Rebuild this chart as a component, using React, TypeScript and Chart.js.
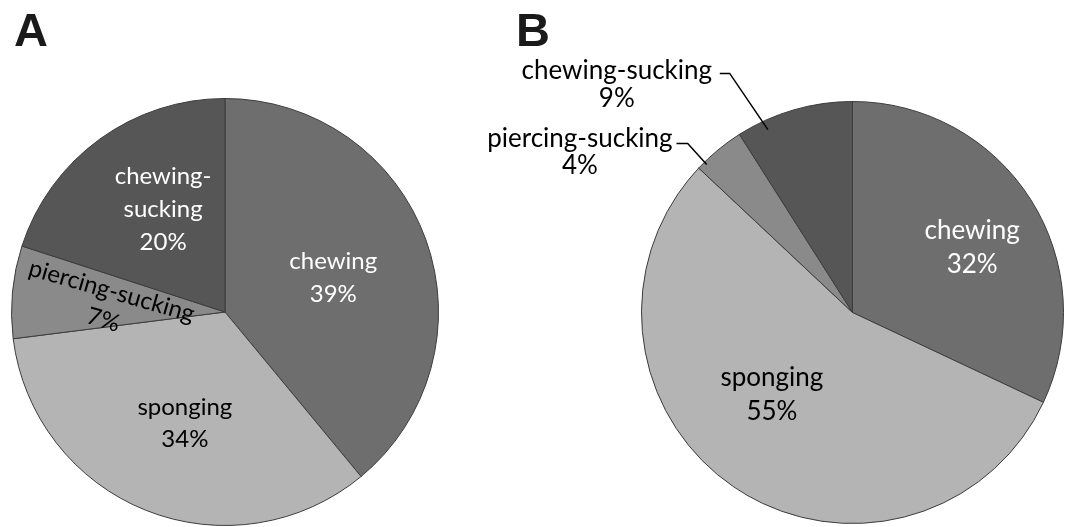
import React, { useEffect, useRef } from "react";
import { Chart, registerables } from "chart.js";

Chart.register(...registerables);

const categories = ["chewing", "sponging", "piercing-sucking", "chewing-sucking"];
const valuesA = [39, 34, 7, 20];
const valuesB = [32, 55, 4, 9];
const colors = ["#6e6e6e", "#b4b4b4", "#8a8a8a", "#565656"];

const FONT = "Lato, 'Open Sans', sans-serif";

type Lbl = { lines: string[]; dx: number; dy: number; color: string; rot?: number; size: number; lh: number };
type Leader = { pts: [number, number][] };

// label centres relative to pie centre, in units of radius
const labelsA: Lbl[] = [
  { lines: ["chewing", "39%"], dx: 0.507, dy: -0.16, color: "#ffffff", size: 24, lh: 33 },
  { lines: ["sponging", "34%"], dx: -0.188, dy: 0.52, color: "#000000", size: 24, lh: 32 },
  { lines: ["piercing-sucking", "7%"], dx: -0.55, dy: -0.03, color: "#000000", rot: 0.28, size: 24, lh: 30 },
  { lines: ["chewing-", "sucking", "20%"], dx: -0.29, dy: -0.48, color: "#ffffff", size: 24, lh: 33 },
];
const labelsB: Lbl[] = [
  { lines: ["chewing", "32%"], dx: 0.567, dy: -0.308, color: "#ffffff", size: 26, lh: 34 },
  { lines: ["sponging", "55%"], dx: -0.382, dy: 0.389, color: "#000000", size: 26, lh: 34 },
  { lines: ["piercing-sucking", "4%"], dx: -1.292, dy: -0.758, color: "#000000", size: 26, lh: 27 },
  { lines: ["chewing-sucking", "9%"], dx: -1.117, dy: -1.078, color: "#000000", size: 26, lh: 28 },
];
const leadersB: Leader[] = [
  { pts: [[-0.834, -0.801], [-0.781, -0.801], [-0.691, -0.701]] },
  { pts: [[-0.629, -1.133], [-0.582, -1.133], [-0.401, -0.867]] },
];

function makeLabelPlugin(labels: Lbl[], leaders: Leader[], letter: string, letterX: number) {
  return {
    id: "customLabels" + letter,
    afterDraw(chart: any) {
      const ctx = chart.ctx as CanvasRenderingContext2D;
      const arc = chart.getDatasetMeta(0).data[0] as any;
      if (!arc) return;
      const cx = arc.x;
      const cy = arc.y;
      const r = arc.outerRadius;
      ctx.save();
      // panel letter
      ctx.font = "bold 47px 'Liberation Sans', Arial, sans-serif";
      ctx.fillStyle = "#1a1a1a";
      ctx.textAlign = "left";
      ctx.textBaseline = "alphabetic";
      ctx.fillText(letter, letterX, 46);
      // leader lines
      ctx.strokeStyle = "#000000";
      ctx.lineWidth = 1.5;
      leaders.forEach((ld) => {
        ctx.beginPath();
        ld.pts.forEach(([px, py], i) => {
          const x = cx + px * r;
          const y = cy + py * r;
          if (i === 0) ctx.moveTo(x, y);
          else ctx.lineTo(x, y);
        });
        ctx.stroke();
      });
      // labels
      ctx.textAlign = "center";
      ctx.textBaseline = "middle";
      labels.forEach((l) => {
        ctx.save();
        ctx.font = `${l.size}px ${FONT}`;
        ctx.translate(cx + l.dx * r, cy + l.dy * r);
        if (l.rot) ctx.rotate(l.rot);
        ctx.fillStyle = l.color;
        const n = l.lines.length;
        l.lines.forEach((t, i) => {
          ctx.fillText(t, 0, (i - (n - 1) / 2) * l.lh);
        });
        ctx.restore();
      });
      ctx.restore();
    },
  };
}

function PieChart(props: {
  values: number[];
  labels: Lbl[];
  leaders: Leader[];
  letter: string;
  letterX: number;
  left: number;
  width: number;
  padding: { left: number; top: number; right: number; bottom: number };
}) {
  const ref = useRef<HTMLCanvasElement | null>(null);
  useEffect(() => {
    if (!ref.current) return;
    const chart = new Chart(ref.current, {
      type: "pie",
      data: {
        labels: categories,
        datasets: [
          {
            data: props.values,
            backgroundColor: colors,
            borderColor: "#3c3c3c",
            borderWidth: 1,
          },
        ],
      },
      options: {
        animation: false,
        responsive: false,
        maintainAspectRatio: false,
        layout: { padding: props.padding },
        plugins: { legend: { display: false }, tooltip: { enabled: false }, title: { display: false } },
      },
      plugins: [makeLabelPlugin(props.labels, props.leaders, props.letter, props.letterX)],
    });
    return () => chart.destroy();
  }, []);
  return (
    <canvas
      ref={ref}
      width={props.width}
      height={527}
      style={{ position: "absolute", left: props.left, top: 0, width: props.width, height: 527 }}
    />
  );
}

export default function App() {
  useEffect(() => {
    document.body.style.margin = "0";
    document.body.style.background = "#ffffff";
  }, []);
  return (
    <div style={{ position: "fixed", left: 0, top: 0, width: 1070, height: 527, background: "#fff", overflow: "hidden" }}>
      <PieChart
        values={valuesA}
        labels={labelsA}
        leaders={[]}
        letter="A"
        letterX={14}
        left={0}
        width={480}
        padding={{ left: 11, top: 98, right: 41, bottom: 1 }}
      />
      <PieChart
        values={valuesB}
        labels={labelsB}
        leaders={leadersB}
        letter="B"
        letterX={36}
        left={480}
        width={590}
        padding={{ left: 161, top: 101, right: 6, bottom: 3 }}
      />
    </div>
  );
}
